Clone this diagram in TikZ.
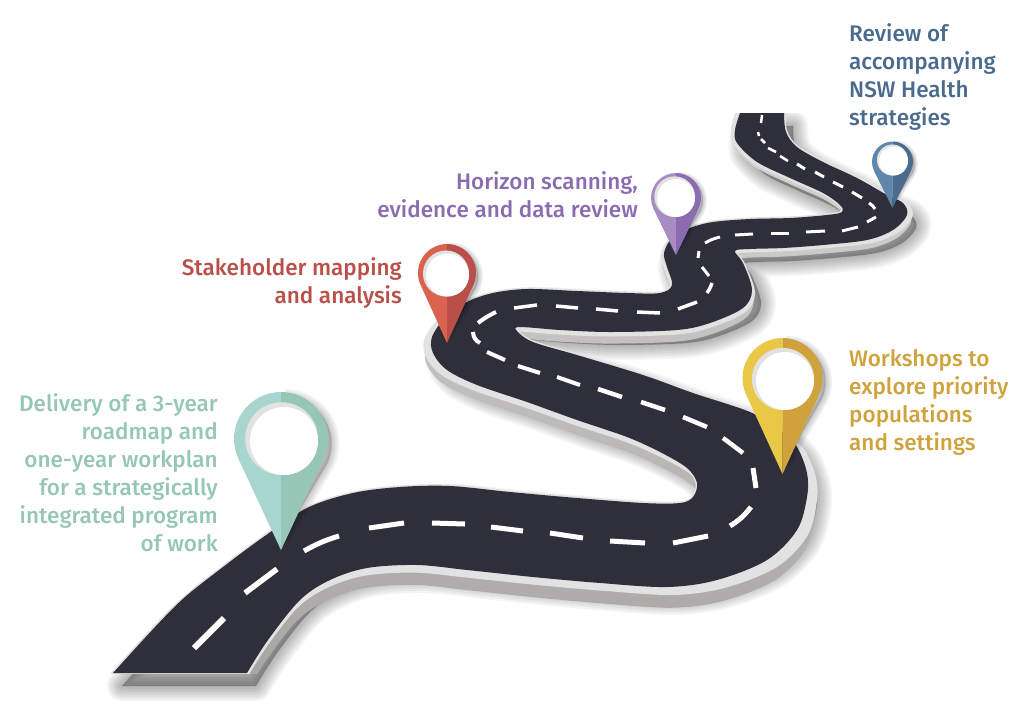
\documentclass[tikz,border=0pt]{standalone}
\usepackage{fontspec}
\setmainfont{Fira Sans Medium}
\usetikzlibrary{positioning, calc}

\definecolor{asphalt}{HTML}{2F2E3B}
\definecolor{rimgray}{HTML}{E3E2E2}
\definecolor{wallgray}{HTML}{A5A4A2}
\definecolor{walllight}{HTML}{D6D5D3}
\definecolor{tealL}{HTML}{A9D5CF}
\definecolor{tealR}{HTML}{96C7B6}
\definecolor{redL}{HTML}{DA6350}
\definecolor{redR}{HTML}{B94F48}
\definecolor{yellowL}{HTML}{EAC847}
\definecolor{yellowR}{HTML}{CFA23C}
\definecolor{purpleL}{HTML}{A98CC4}
\definecolor{purpleR}{HTML}{8C6CB0}
\definecolor{blueL}{HTML}{5F86AC}
\definecolor{blueR}{HTML}{4A6A8E}

\tikzset{
	roadlabel/.style={font=\fontsize{22.5}{28}\selectfont, inner sep=0pt},
	roaddash/.style={draw=white, line width=#1},
	roaddash/.default=4
}

\def\roadpath{plot[smooth, tension=0.55] coordinates {(113,673) (155,627) (185,597) (223,567) (262,538) (307,508) (353,493) (400,487) (450,486) (510,492) (577,498) (643,503) (680,503) (693,497) (697,483) (687,468) (660,452) (627,437) (577,420) (527,402) (477,385) (447,370) (433,353) (432,337) (445,318) (467,302) (493,293) (527,289) (577,291) (627,293) (660,293) (672,285) (667,267) (664,253) (672,238) (690,228) (713,222) (750,219) (790,218) (827,215) (842,212) (840,205) (823,193) (790,178) (757,162) (737,143) (735,130) (740,113)}
	-- plot[smooth, tension=0.55] coordinates {(784,113) (786,132) (797,147) (823,162) (857,178) (887,195) (903,203) (907,215) (893,230) (867,240) (823,245) (783,248) (750,249) (735,251) (743,263) (752,290) (743,308) (710,323) (677,330) (610,332) (560,330) (520,327) (517,331) (533,342) (577,355) (643,375) (693,393) (750,412) (780,430) (797,447) (807,473) (807,497) (797,530) (767,560) (717,580) (667,587) (600,583) (533,577) (467,570) (417,565) (367,568) (330,580) (300,600) (268,640) (247,673)} -- cycle}

\begin{document}
\begin{tikzpicture}[x=1pt, y=-1pt]
	\useasboundingbox (0,0) rectangle (1024,715);

	\begin{scope}
		\clip (0,113) rectangle (1024,715);
		\foreach \w in {2,6,...,30}
			\fill[black, opacity=0.045, line width=\w, draw=black, line join=round, shift={(9,13)}] \roadpath;
	\end{scope}

	\begin{scope}
		\clip (0,113) rectangle (1024,673);
		\shade[top color=walllight, bottom color=wallgray, cm={1.028,0,-0.0247,1.036,(-26.7pt,0.4pt)}] \roadpath;
		\fill[rimgray, draw=rimgray, line width=3, line join=round, cm={1.028,0,-0.0247,1.0136,(-26.7pt,1.54pt)}] \roadpath;
		\fill[rimgray, draw=rimgray, line width=3, line join=round] \roadpath;
		\fill[asphalt] \roadpath;
	\end{scope}

	\foreach \xa/\ya/\xb/\yb/\w in {194/648/224/618/6, 245/593/277/569/5.5, 369/528/404/523/5, 432/523/465/524/5, 491/527/523/531/5, 550/533/583/538/5, 610/541/645/543/5, 673/543/708/536/5, 753/468/756/488/5, 723/438/743/453/4.5, 683/417/707/427/4.5, 641/402/665/410/4.5, 598/389/622/397/4.5, 557/377/580/385/4, 518/366/540/373/4, 487/352/505/360/4, 514/308/537/305/3.5, 556/306/578/308/3.5, 596/309/618/311/3.5, 637/312/660/313/3.5, 678/309/697/302/3.5, 702/267/709/276/3, 699/251/698/258/3, 735/235/753/234/3, 771/233/789/233/3, 806/232/825/231/3, 842/231/858/227/3, 867/222/876/217/3, 852/192/862/198/3, 833/182/843/187/3, 815/172/824/177/3, 797/164/805/169/3, 780/156/788/161/2.5, 768/148/776/152/2.5, 761/139/765/143/2.5, 758/132/759/136/2.5, 762/115/761/123/2.5}
		\draw[roaddash=\w] (\xa,\ya) -- (\xb,\yb);
	\draw[roaddash=5] (304,551) to[bend left=6] (339,536);
	\draw[roaddash=5] (730,526) to[bend right=10] (751,507);
	\draw[roaddash=4] (473,332) to[bend right=30] (480,343);
	\draw[roaddash=4] (478,323) to[bend left=6] (496,312);
	\draw[roaddash=3.5] (707,293) to[bend right=8] (712,283);
	\draw[roaddash=3] (705,243) to[bend left=8] (720,237);
	\draw[roaddash=3] (869,203) to[bend left=15] (875,209);

	\foreach \cx/\cy/\rr/\ty/\wx/\wy/\wr/\lc/\rc in {281/439/47/550/284/441/34/tealL/tealR, 447/273/29/343/447.5/275/21.5/redL/redR, 676/198/25/255/676/198/19/purpleL/purpleR, 892.5/162/20.5/208/893.5/161/14.5/blueL/blueR, 782.5/378/40/474/785/381/29/yellowL/yellowR}{
		\pgfmathsetmacro\ang{acos(\rr/(\ty-\cy))}
		\pgfmathsetmacro\angl{90+\ang}
		\pgfmathsetmacro\angr{450-\ang}
		\pgfmathsetmacro\rimr{\wr*1.07}
		\pgfmathsetmacro\rimx{\wx-\wr*0.07}
		\pgfmathsetmacro\rimy{\wy-\wr*0.07}
		\pgfmathsetmacro\shx{\rr*0.08}
		\pgfmathsetmacro\shy{\rr*0.1}
		\foreach \k in {0.08,0.16,...,0.4}{
			\pgfmathsetmacro\shw{\rr*\k}
			\fill[black, opacity=0.05, draw=black, line width=\shw, line join=round, shift={(\shx,\shy)}] (\cx,\cy-\rr) arc[start angle=270, end angle=\angr, radius=\rr] -- (\cx,\ty-\rr*0.4) -- (\cx,\cy);
		}
		\fill[\lc] (\cx,\cy-\rr) arc[start angle=270, end angle=\angl, radius=\rr] -- (\cx,\ty) -- cycle;
		\fill[\rc] (\cx,\cy-\rr) arc[start angle=270, end angle=\angr, radius=\rr] -- (\cx,\ty) -- cycle;
		\fill[rimgray] (\rimx,\rimy) circle[radius=\rimr];
		\fill[white] (\wx,\wy) circle[radius=\wr];
	}

	\node[roadlabel, anchor=east, align=right, text=tealR] (DL) at (218,473) {Delivery of a 3-year\\roadmap and\\one-year workplan\\for a strategically\\integrated program\\of work};
	\node[roadlabel, anchor=east, align=right, text=redR] (SM) at (402,283) {Stakeholder mapping\\and analysis};
	\node[roadlabel, anchor=east, align=right, text=purpleR] (HS) at (638,195) {Horizon scanning,\\evidence and data review};
	\node[roadlabel, anchor=west, align=left, text=yellowR] (WS) at (849,402) {Workshops to\\explore priority\\populations\\and settings};
	\node[roadlabel, anchor=west, align=left, text=blueR] (RV) at (849,77) {Review of\\accompanying\\NSW Health\\strategies};
\end{tikzpicture}
\end{document}
